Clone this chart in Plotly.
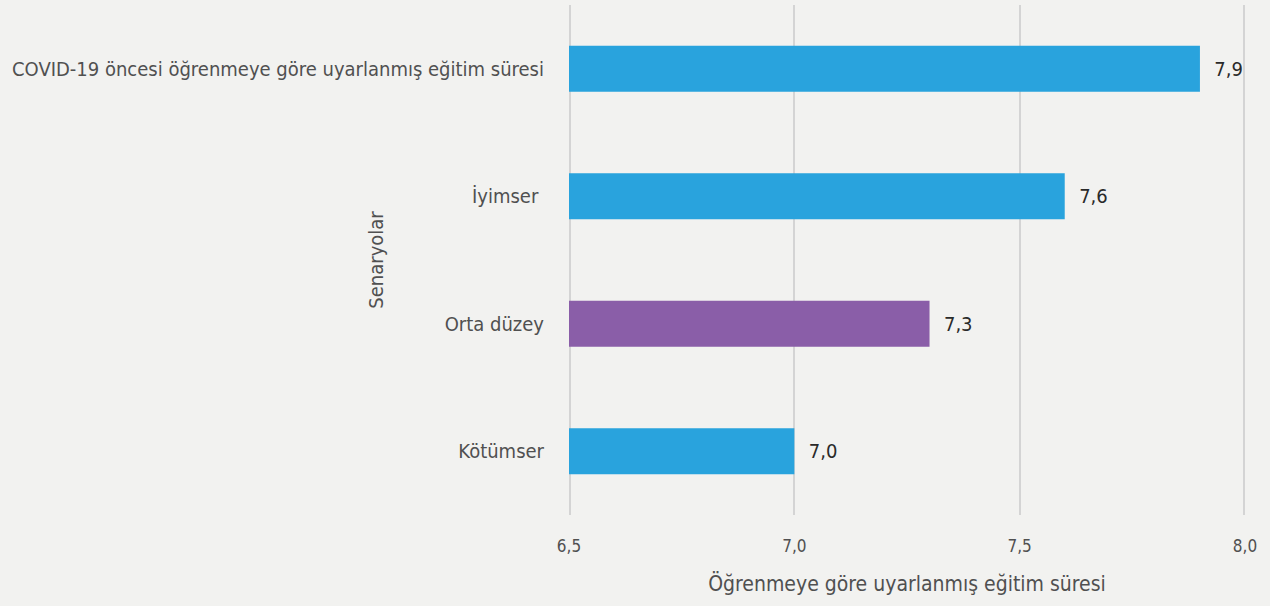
import plotly.graph_objects as go

categories = ["COVID-19 öncesi öğrenmeye göre uyarlanmış eğitim süresi", "İyimser ", "Orta düzey", "Kötümser"]
values = [7.9, 7.6, 7.3, 7.0]
labels = ["7,9", "7,6", "7,3", "7,0"]
colors = ["#29a3dd", "#29a3dd", "#8a5ea8", "#29a3dd"]
tickvals = [6.5, 7.0, 7.5, 8.0]
ticktext = ["6,5", "7,0", "7,5", "8,0"]

FONT = "DejaVu Sans Condensed, DejaVu Sans, sans-serif"
GRID = "#d4d4d4"

fig = go.Figure(go.Bar(
    y=categories, x=values, orientation="h",
    marker=dict(color=colors, line=dict(width=0)),
    width=0.36,
    text=["  " + t for t in labels], textposition="outside", cliponaxis=False,
    textfont=dict(size=20, color="#2a2a2a", family=FONT),
))

# edge gridlines (plotly omits gridlines at the exact range ends; half is clipped)
for v in (tickvals[0], tickvals[-1]):
    fig.add_shape(type="line", xref="x", yref="paper", x0=v, x1=v, y0=0, y1=1,
                  line=dict(color=GRID, width=4), layer="below")

fig.update_layout(
    width=1270, height=606,
    margin=dict(l=569, r=25, t=5, b=91),
    paper_bgcolor="#f2f2f0", plot_bgcolor="#f2f2f0",
    font=dict(family=FONT, color="#505050", size=18),
    showlegend=False,
    xaxis=dict(range=[tickvals[0], tickvals[-1]], tickvals=tickvals, ticktext=ticktext,
               showgrid=True, gridcolor=GRID, gridwidth=2, zeroline=False,
               showline=False, tickfont=dict(size=17),
               ticks="outside", ticklen=16, tickcolor="rgba(0,0,0,0)",
               title=dict(text="Öğrenmeye göre uyarlanmış eğitim süresi", font=dict(size=21), standoff=20)),
    yaxis=dict(autorange="reversed", showgrid=False, zeroline=False, showline=False,
               ticks="outside", ticklen=20, tickcolor="rgba(0,0,0,0)",
               tickfont=dict(size=20), automargin=False),
    annotations=[dict(text="Senaryolar", xref="paper", yref="paper", x=-0.286, y=0.5,
                      textangle=-90, showarrow=False, font=dict(size=20, color="#505050"),
                      xanchor="center", yanchor="middle")],
)

fig.write_html("out.html", config={"displayModeBar": False},
               post_script="document.body.style.margin='0';document.body.style.background='#f2f2f0';")
